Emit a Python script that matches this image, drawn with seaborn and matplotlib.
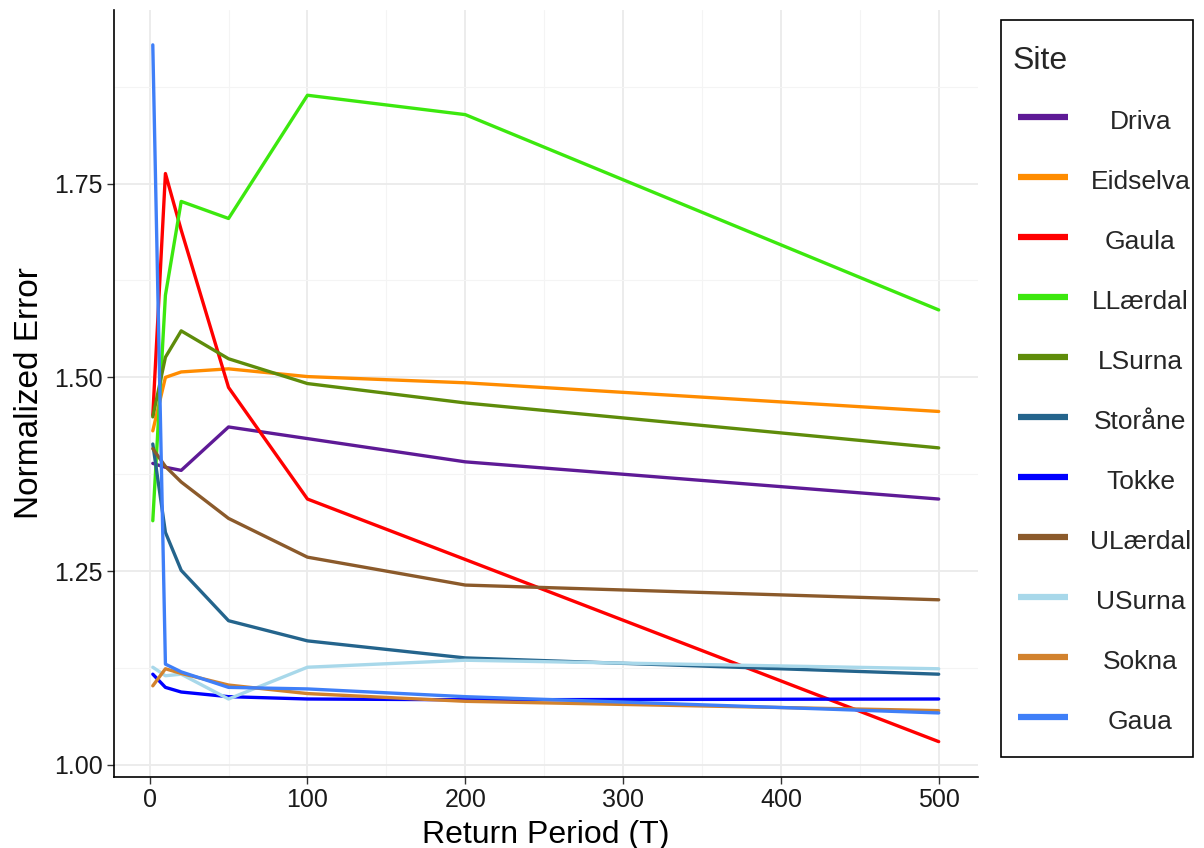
import numpy as np
import pandas as pd
import matplotlib
matplotlib.use("Agg")
import matplotlib.pyplot as plt
import matplotlib.transforms as mtransforms
from matplotlib.patches import Rectangle
import seaborn as sns
from matplotlib.ticker import MultipleLocator

T = [2, 10, 20, 50, 100, 200, 500]
sites = ["Driva", "Eidselva", "Gaula", "LLærdal", "LSurna", "Storåne",
         "Tokke", "ULærdal", "USurna", "Sokna", "Gaua"]

driva    = [1.389, 1.384, 1.380, 1.436, 1.421, 1.391, 1.343]
eidselva = [1.431, 1.500, 1.507, 1.511, 1.501, 1.493, 1.456]
gaula    = [1.451, 1.763, 1.690, 1.487, 1.343, 1.265, 1.030]
llaerdal = [1.315, 1.606, 1.727, 1.705, 1.864, 1.839, 1.587]
lsurna   = [1.449, 1.526, 1.560, 1.524, 1.492, 1.467, 1.409]
storaane = [1.414, 1.300, 1.251, 1.186, 1.160, 1.138, 1.117]
tokke    = [1.117, 1.100, 1.094, 1.088, 1.085, 1.084, 1.085]
ulaerdal = [1.408, 1.385, 1.365, 1.318, 1.268, 1.232, 1.213]
usurna   = [1.126, 1.115, 1.117, 1.085, 1.126, 1.135, 1.124]
sokna    = [1.102, 1.124, 1.118, 1.103, 1.092, 1.082, 1.070]
gaua     = [1.929, 1.130, 1.120, 1.100, 1.098, 1.088, 1.067]

values = [driva, eidselva, gaula, llaerdal, lsurna, storaane,
          tokke, ulaerdal, usurna, sokna, gaua]

colors = ["#5E1A96", "#FF8C00", "#FF0000", "#3CE80E", "#5E8C0A", "#24648C",
          "#0000FF", "#8B5A2B", "#A8D8EA", "#D2822D", "#3F7FF8"]

df = pd.DataFrame({
    "T": np.tile(T, len(sites)),
    "Error": np.concatenate(values),
    "Site": np.repeat(sites, len(T)),
})

sns.set_theme(style="white")
plt.rcParams["font.family"] = ["Liberation Sans", "DejaVu Sans"]

fig = plt.figure(figsize=(12.04, 8.48), dpi=100)
ax = fig.add_axes([113.5 / 1204, (848 - 776.5) / 848,
                   (978 - 113.5) / 1204, (776.5 - 10) / 848])

sns.lineplot(data=df, x="T", y="Error", hue="Site", hue_order=sites,
             palette=dict(zip(sites, colors)), linewidth=2.4, ax=ax,
             estimator=None, sort=False)

ax.set_xlim(-22.9, 524.9)
ax.set_ylim(0.985, 1.974)
ax.set_xticks([0, 100, 200, 300, 400, 500])
ax.set_yticks([1.00, 1.25, 1.50, 1.75])
ax.set_yticklabels(["1.00", "1.25", "1.50", "1.75"])
ax.xaxis.set_minor_locator(MultipleLocator(50))
ax.yaxis.set_minor_locator(MultipleLocator(0.125))
ax.grid(which="major", color="#EBEBEB", linewidth=1.3)
ax.grid(which="minor", color="#F4F4F4", linewidth=0.8)
ax.set_axisbelow(True)

for s in ["top", "right"]:
    ax.spines[s].set_visible(False)
for s in ["left", "bottom"]:
    ax.spines[s].set_color("black")
    ax.spines[s].set_linewidth(1.2)

ax.tick_params(axis="both", which="major", length=5, width=1,
               color="#333333", labelsize=18, labelcolor="#1a1a1a",
               left=True, bottom=True, pad=3)
ax.tick_params(which="minor", length=0)

ax.set_xlabel("Return Period (T)", fontsize=23, color="black", labelpad=6)
ax.set_ylabel("Normalized Error", fontsize=24, color="black", labelpad=6)

# legend (frame drawn separately so paddings can match the reference)
handles, labels = ax.get_legend_handles_labels()
leg = ax.legend(handles, labels, title="Site", loc="upper left",
                bbox_to_anchor=(1001 / 1204, 1 - 29 / 848),
                bbox_transform=fig.transFigure, borderaxespad=0,
                frameon=False, fontsize=19, title_fontsize=23,
                handlelength=1.9, handleheight=1.45, handletextpad=0.83,
                labelspacing=1.087, borderpad=0.64, alignment="left")
for line in leg.get_lines():
    line.set_linewidth(4.5)
    line.set_solid_capstyle("butt")

fig.add_artist(Rectangle((1001 / 1204, 1 - 757 / 848), 192 / 1204, 737 / 848,
                         transform=fig.transFigure, fill=False,
                         edgecolor="black", linewidth=1.2))

# centre the legend labels within their column, nudge the title left
fig.canvas.draw()
renderer = fig.canvas.get_renderer()
widths = [t.get_window_extent(renderer).width for t in leg.get_texts()]
wmax = max(widths)
for t, w in zip(leg.get_texts(), widths):
    t.set_transform(t.get_transform() + mtransforms.Affine2D().translate((wmax - w) / 2, 0))
title = leg.get_title()
title.set_transform(title.get_transform() + mtransforms.Affine2D().translate(-5, 0))

fig.savefig("out.png", dpi=100)
